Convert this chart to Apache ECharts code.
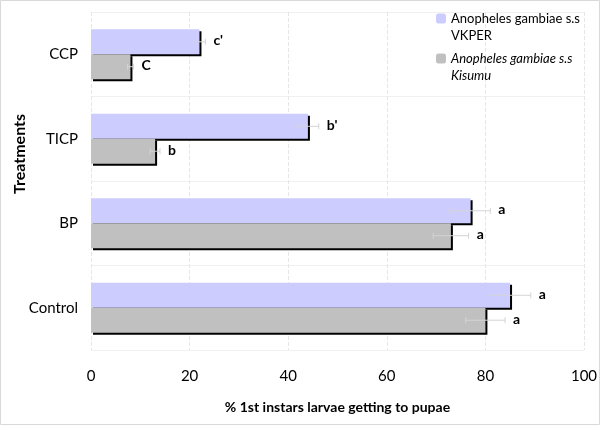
<!DOCTYPE html>
<html>
<head>
<meta charset="utf-8">
<script src="https://cdn.jsdelivr.net/npm/echarts@6/dist/echarts.min.js"></script>
<style>html,body{margin:0;padding:0;background:#fff}#c{width:600px;height:425px}</style>
</head>
<body>
<div id="c"></div>
<script>
var categories = ['CCP', 'TICP', 'BP', 'Control'];
var vkperValues = [22, 44, 77, 85];
var kisumuValues = [8, 13, 73, 80];
var vkperErr = [1.2, 2.2, 4, 4.2];
var kisumuErr = [0.6, 1, 3.6, 4];
var vkperLetters = ["c'", "b'", "a", "a"];
var kisumuLetters = ["C", "b", "a", "a"];
var xTicks = [0, 20, 40, 60, 80, 100];
var nameV = 'Anopheles gambiae s.s VKPER';
var nameK = 'Anopheles gambiae s.s Kisumu';
var yTitle = 'Treatments';
var xTitle = '% 1st instars larvae getting to pupae';

var FONT = 'Lato';
function errData(vals, errs) {
  return vals.map(function (v, i) { return [i, v - errs[i], v + errs[i]]; });
}
function makeErr(sign, letters) {
  return function (params, api) {
    var cat = api.value(0);
    var lo = api.coord([api.value(1), cat]);
    var hi = api.coord([api.value(2), cat]);
    var band = api.size([0, 1])[1];
    var y = lo[1] + sign * band * 0.1475;
    var col = '#d4d4d4';
    return {
      type: 'group',
      children: [
        { type: 'line', shape: { x1: lo[0], y1: y, x2: hi[0], y2: y }, style: { stroke: col, lineWidth: 1 } },
        { type: 'line', shape: { x1: lo[0], y1: y - 3, x2: lo[0], y2: y + 3 }, style: { stroke: col, lineWidth: 1 } },
        { type: 'line', shape: { x1: hi[0], y1: y - 3, x2: hi[0], y2: y + 3 }, style: { stroke: col, lineWidth: 1 } },
        { type: 'text', x: hi[0] + 8, y: y - 1, style: { text: letters[params.dataIndex], fill: '#000', font: 'bold 14px ' + FONT, textVerticalAlign: 'middle', textAlign: 'left' } }
      ]
    };
  };
}

var chart = echarts.init(document.getElementById('c'));
chart.setOption({
  animation: false,
  backgroundColor: '#fff',
  textStyle: { fontFamily: FONT },
  graphic: [
    { type: 'rect', shape: { x: 0.5, y: 0.5, width: 599, height: 424 }, style: { fill: 'none', stroke: '#d9d9d9', lineWidth: 1 }, silent: true },
    { type: 'text', x: 20, y: 154, rotation: Math.PI / 2, silent: true,
      style: { text: yTitle, font: 'bold 16px ' + FONT, fill: '#000', textAlign: 'center', textVerticalAlign: 'middle' } }
  ],
  legend: [
    {
      data: [nameV], orient: 'vertical', left: 431, top: 7, itemWidth: 10, itemHeight: 10, itemGap: 0,
      formatter: function () { return '{n|Anopheles gambiae s.s}\n{n|VKPER}'; },
      textStyle: { padding: [17, 0, 0, 0], rich: { n: { fontSize: 13, lineHeight: 17, fontFamily: FONT, color: '#000' } } }
    },
    {
      data: [nameK], orient: 'vertical', left: 431, top: 47, itemWidth: 10, itemHeight: 10, itemGap: 0,
      formatter: function () { return '{i|Anopheles gambiae s.s}\n{i|Kisumu}'; },
      textStyle: { padding: [17, 0, 0, 0], rich: { i: { fontSize: 13, lineHeight: 17, fontStyle: 'italic', fontFamily: FONT, color: '#000' } } }
    }
  ],
  grid: { left: 91, right: 16, top: 12, bottom: 75, outerBoundsMode: 'none', containLabel: false },
  xAxis: {
    type: 'value', min: 0, max: 100, interval: 20,
    name: xTitle, nameLocation: 'middle', nameGap: 50,
    nameTextStyle: { fontSize: 14, fontWeight: 'bold', color: '#000', fontFamily: FONT },
    axisLine: { show: false }, axisTick: { show: false },
    axisLabel: { fontSize: 15, color: '#000', margin: 19, fontFamily: FONT,
      formatter: function (v) { return xTicks.indexOf(v) >= 0 ? String(v) : ''; } },
    splitLine: { show: true, lineStyle: { color: '#e6e6e6', type: 'dashed' } }
  },
  yAxis: {
    type: 'category', data: categories, inverse: true,
    axisLine: { show: false }, axisTick: { show: false },
    axisLabel: { fontSize: 15, color: '#000', margin: 13, fontFamily: FONT, padding: [0, 0, 6, 0] },
    splitLine: { show: true, lineStyle: { color: '#f0f0f0' } }
  },
  series: [
    {
      name: nameV, type: 'bar', data: vkperValues, barGap: '0%', barCategoryGap: '41%',
      itemStyle: { color: '#ccccff', shadowColor: '#000', shadowOffsetX: 2, shadowOffsetY: 2, shadowBlur: 0 }
    },
    {
      name: nameK, type: 'bar', data: kisumuValues, barGap: '0%', barCategoryGap: '41%',
      itemStyle: { color: '#c0c0c0', shadowColor: '#000', shadowOffsetX: 2, shadowOffsetY: 2, shadowBlur: 0 }
    },
    { type: 'custom', data: errData(vkperValues, vkperErr), renderItem: makeErr(-1, vkperLetters), z: 5, silent: true },
    { type: 'custom', data: errData(kisumuValues, kisumuErr), renderItem: makeErr(1, kisumuLetters), z: 5, silent: true }
  ]
});
</script>
</body>
</html>
